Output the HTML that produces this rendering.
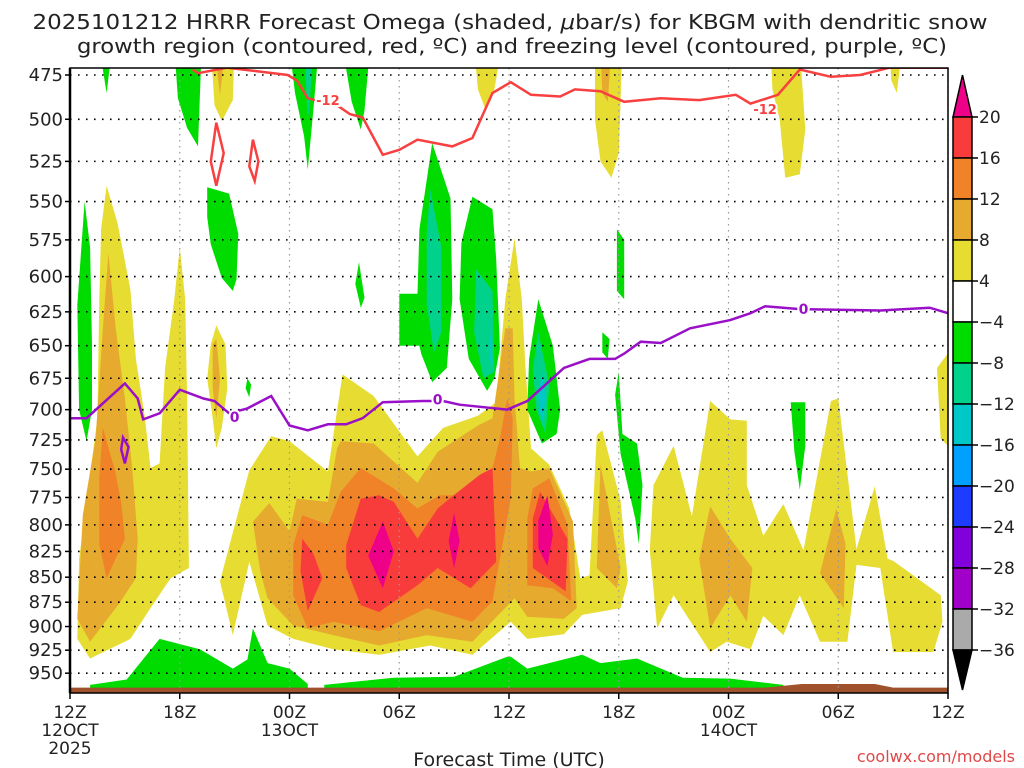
<!DOCTYPE html>
<html><head><meta charset="utf-8"><style>
html,body{margin:0;padding:0;background:#fff;}
svg{display:block;font-family:"DejaVu Sans","Liberation Sans",sans-serif;}
</style></head><body>
<svg id="chart" width="1024" height="768" viewBox="0 0 1024 768">
<text x="510" y="29" font-size="20" text-anchor="middle" textLength="955" lengthAdjust="spacingAndGlyphs" fill="#222">2025101212 HRRR Forecast Omega (shaded, <tspan font-style="italic">μ</tspan>bar/s) for KBGM with dendritic snow</text>
<text x="512" y="53" font-size="20" text-anchor="middle" textLength="870" lengthAdjust="spacingAndGlyphs" fill="#222">growth region (contoured, red, ºC) and freezing level (contoured, purple, ºC)</text>
<defs><clipPath id="plotclip"><rect x="70" y="68" width="878" height="625"/></clipPath></defs>
<g id="fills" clip-path="url(#plotclip)"></g>
<g id="grid"></g>
<g id="lines" clip-path="url(#plotclip)"></g>
<g id="axes"></g>
<g id="cbar"></g>
<text x="509" y="766" font-size="19" text-anchor="middle" fill="#222">Forecast Time (UTC)</text>
<text x="1015" y="762" font-size="16" text-anchor="end" fill="#e04848">coolwx.com/models</text>
</svg>
<script>
const pressureTicks=[475,500,525,550,575,600,625,650,675,700,725,750,775,800,825,850,875,900,925,950];
const timeTicks=[0,6,12,18,24,30,36,42,48];
const timeLabels=["12Z","18Z","00Z","06Z","12Z","18Z","00Z","06Z","12Z"];
const dateLabels=[[0,"12OCT"],[0,"2025"],[12,"13OCT"],[36,"14OCT"]];
const cbarLevels=[20,16,12,8,4,-4,-8,-12,-16,-20,-24,-28,-32,-36];
const cbarColors=["#f83c3c","#f08228","#e6aa2e","#e6dc32","#ffffff","#00dc00","#00d28c","#00c8c8","#00a0ff","#1e3cff","#8200dc","#a000c8","#aaaaaa"];
const levelColors={y4:"#e6dc32",o8:"#e6aa2e",o12:"#f08228",r16:"#f83c3c",m20:"#ee0088",g4:"#00dc00",g8:"#00d28c",c12:"#00c8c8"};
const yellowAreas=[
[[2.0,540],[2.6,564],[3.3,609],[3.6,660],[4.1,707],[4.4,749],[4.9,745],[5.2,667],[5.7,616],[6.0,580],[6.3,616],[6.4,691],[6.5,841],[5.5,851],[4.4,881],[3.3,913],[1.1,934],[0.4,913],[0.5,832],[1.0,767],[1.5,707],[1.6,616],[1.7,568]],
[[8.0,635],[8.5,649],[8.6,683],[8.3,715],[8.0,732],[7.8,707],[7.5,675],[7.7,649]],
[[7.7,460],[9.0,460],[8.9,489],[8.3,501],[7.9,492]],
[[22.1,460],[23.6,460],[23.2,483],[22.7,494],[22.3,483]],
[[28.7,460],[30.2,460],[30.0,520],[29.6,535],[29.0,525],[28.7,500]],
[[38.3,460],[39.9,460],[40.2,506],[39.9,533],[39.1,535],[38.8,500],[38.4,483]],
[[44.8,460],[45.5,460],[45.2,485],[44.9,478]],
[[47.4,667],[48.2,652],[48.2,733],[47.6,724]],
[[8.2,854],[9.8,751],[11.0,722],[12.0,726],[14.1,752],[14.9,672],[16.6,689],[19.0,739],[20.4,715],[22.3,705],[23.3,694],[23.8,616],[24.3,574],[24.7,616],[24.9,667],[25.2,732],[26.2,746],[27.3,785],[27.9,851],[28.4,848],[28.8,721],[29.1,717],[30.1,778],[30.5,854],[30.1,881],[28.0,888],[27.0,908],[25.0,913],[24.1,895],[22.0,930],[19.7,920],[16.9,930],[14.4,924],[12.2,913],[10.8,899],[9.8,835],[8.9,909]],
[[31.9,764],[33.0,730],[34.0,792],[35.0,693],[36.1,708],[37.0,709],[37.0,764],[37.9,810],[39.0,781],[40.1,824],[41.6,693],[42.0,691],[43.0,823],[44.0,765],[44.7,832],[45.0,834],[47.6,868],[47.7,895],[47.2,927],[45.0,927],[44.3,841],[43.0,838],[42.5,916],[41.0,916],[39.9,868],[39.0,909],[37.9,889],[37.2,924],[35.9,916],[35.0,927],[33.0,868],[32.1,902],[31.7,824]]
];
const orange8Areas=[
[[2.1,584],[2.5,637],[3.0,691],[3.4,749],[3.7,813],[3.6,851],[2.7,876],[1.1,916],[0.4,892],[0.7,791],[1.4,724],[1.8,637]],
[[7.8,649],[8.0,645],[8.2,675],[8.0,707],[7.8,683]],
[[7.9,460],[8.5,460],[8.2,486]],
[[29.0,460],[29.6,460],[29.4,490],[29.1,485]],
[[10.0,797],[10.9,780],[12.0,806],[12.4,776],[14.1,779],[14.6,732],[14.8,726],[16.6,728],[19.0,762],[20.1,735],[22.3,713],[23.1,707],[23.8,637],[24.2,637],[24.3,691],[24.6,749],[25.2,752],[26.2,749],[27.5,797],[27.7,881],[27.0,892],[25.0,890],[24.3,871],[22.0,916],[19.5,909],[16.9,920],[14.4,909],[12.2,899],[10.8,871],[10.4,844]],
[[29.0,746],[30.1,841],[29.9,861],[28.8,841]],
[[35.0,783],[36.1,813],[37.3,841],[37.0,895],[36.1,868],[35.0,902],[34.4,832]],
[[41.9,785],[42.4,818],[42.3,881],[41.0,846]]
];
const orange12Areas=[
[[1.8,715],[2.5,754],[2.8,780],[3.0,813],[2.0,851],[1.6,818],[1.6,758]],
[[12.2,819],[12.7,791],[14.1,800],[14.8,770],[15.9,749],[17.7,767],[19.0,785],[20.2,773],[22.0,773],[23.1,749],[23.5,724],[23.9,691],[24.2,707],[24.1,776],[23.5,832],[23.1,874],[22.0,895],[19.5,881],[16.9,905],[14.4,895],[13.0,902],[12.2,868]],
[[25.3,767],[26.2,758],[27.2,800],[27.4,874],[26.4,861],[25.0,858],[25.0,794]]
];
const red16Areas=[
[[12.7,813],[13.3,827],[13.8,851],[13.0,884],[12.6,844]],
[[15.1,819],[15.9,776],[16.9,773],[17.7,779],[19.0,813],[20.1,785],[20.9,774],[22.4,755],[23.1,749],[23.3,835],[21.9,861],[20.1,841],[19.0,858],[16.9,885],[15.9,878],[15.1,841]],
[[25.7,770],[27.2,813],[27.1,864],[25.3,841],[25.3,794]]
];
const magenta20Areas=[
[[17.1,797],[17.7,825],[17.1,861],[16.3,829]],
[[21.0,789],[21.3,815],[21.0,841],[20.7,815]],
[[26.1,773],[26.4,809],[26.1,839],[25.6,822],[25.6,796]]
];
const green4Areas=[
[[1.6,460],[2.3,460],[2.0,485]],
[[5.7,460],[7.2,460],[7.0,516],[6.4,505],[5.9,488]],
[[12.0,460],[13.6,460],[13.3,495],[13.0,530],[12.8,510],[12.3,485]],
[[14.9,460],[16.4,460],[16.1,495],[15.9,506],[15.4,490]],
[[7.5,541],[8.7,545],[9.2,571],[9.1,602],[8.9,610],[8.3,601],[7.7,578],[7.5,560]],
[[0.8,550],[1.1,580],[1.2,650],[1.2,700],[0.9,726],[0.5,700],[0.4,620]],
[[15.8,590],[16.1,615],[15.9,622],[15.6,605]],
[[19.8,514],[20.8,548],[20.9,616],[20.6,667],[19.8,678],[19.2,656],[19.1,650],[18.0,650],[18.0,612],[19.0,612],[19.1,568]],
[[22.0,547],[23.1,555],[23.3,588],[23.5,652],[23.2,675],[22.8,685],[21.8,660],[21.3,616],[21.4,577]],
[[25.6,616],[26.4,650],[26.8,700],[26.6,720],[25.8,728],[25.0,700],[25.1,660]],
[[29.9,568],[30.3,575],[30.3,616],[29.9,610]],
[[29.1,640],[29.5,645],[29.4,660],[29.1,655]],
[[30.0,670],[30.2,720],[31.0,728],[31.3,764],[31.1,818],[30.9,794],[30.1,737],[29.8,688]],
[[39.4,694],[40.2,694],[40.2,730],[39.9,768],[39.6,735]],
[[9.7,675],[9.9,680],[9.8,690],[9.6,683]],
[[1.1,963],[3.1,957],[4.9,913],[7.1,924],[8.9,945],[9.7,935],[10.0,902],[10.8,939],[12.0,945],[13.0,962],[13.0,975],[1.1,975]],
[[13.9,963],[17.7,955],[21.0,954],[23.9,932],[24.1,932],[25.0,945],[28.0,930],[29.0,939],[31.0,934],[33.5,955],[36.1,956],[39.0,963],[39.0,975],[13.9,975]]
];
const green8Areas=[
[[12.8,460],[13.3,460],[13.1,492],[13.0,500]],
[[19.7,542],[20.3,580],[20.3,640],[19.9,655],[19.5,620],[19.5,570]],
[[22.2,595],[23.1,610],[23.2,670],[22.6,675],[22.1,640]],
[[25.6,640],[26.2,680],[26.0,720],[25.5,700],[25.3,668]]
];
const cyan12Areas=[
[[25.8,670],[26.0,690],[25.8,712],[25.6,690]],
[[23.0,640],[23.1,665],[22.9,660]]
];
const groundLevel=[[0,966],[38,966],[40,962],[44,962],[45,966],[48,966]];
const freezingLine=[[0,707],[0.9,707],[3.0,679],[3.7,691],[4.0,708],[4.9,703],[6.0,684],[7.3,691],[7.9,693],[8.7,703],[9.7,699],[11.0,689],[12.0,713],[13.0,717],[14.1,712],[15.1,712],[16.0,707],[17.1,694],[19.3,693],[20.4,693],[21.3,696],[23.9,700],[25.0,693],[27.0,667],[28.4,660],[29.8,660],[30.3,656],[31.2,647],[32.3,648],[33.9,637],[36.1,631],[37.2,626],[38.0,621],[39.9,623],[44.3,624],[47.0,622],[48.0,626]];
const freezingLoop=[[2.9,723],[3.2,731],[3.0,745],[2.8,733]];
const freezingLabels=[[9.0,706],[20.1,692],[40.1,623]];
const dgzLine=[[6.7,472],[7.0,474],[8.6,471],[11.9,475],[12.4,478],[13.0,488],[14.6,492],[15.3,497],[16.0,499],[17.1,521],[18.0,518],[19.0,512],[20.9,516],[22.0,511],[23.1,485],[24.1,479],[25.2,486],[26.8,487],[27.6,483],[29.0,484],[30.3,490],[32.3,488],[34.4,489],[36.4,486],[37.2,491],[38.7,486],[39.9,472],[41.6,476],[43.2,475],[44.8,471],[48,471]];
const dgzLoops=[[[8.0,502],[8.4,520],[8.0,540],[7.7,525]],[[10.0,512],[10.3,525],[10.1,537],[9.8,528]]];
const dgzLabels=[[14.1,489],[38.0,494]];

const X0=70,X1=948,Y0=68,Y1=693;
function xs(h){return X0+h*(X1-X0)/48;}
function ys(p){return 75+Math.log(p/475)*863;}
const NS="http://www.w3.org/2000/svg";
function mk(tag,attrs,parent){const e=document.createElementNS(NS,tag);for(const k in attrs)e.setAttribute(k,attrs[k]);parent.appendChild(e);return e;}
function pts(a){return a.map(d=>xs(d[0]).toFixed(1)+","+ys(d[1]).toFixed(1)).join(" ");}

const fills=document.getElementById("fills");
function drawAreas(list,color,name){list.forEach(a=>{const el=mk("polygon",{points:pts(a),fill:color},fills);

});}
drawAreas(yellowAreas,levelColors.y4,"omega-4-8-area");
drawAreas(orange8Areas,levelColors.o8,"omega-8-12-area");
drawAreas(orange12Areas,levelColors.o12,"omega-12-16-area");
drawAreas(red16Areas,levelColors.r16,"omega-16-20-area");
drawAreas(magenta20Areas,levelColors.m20,"omega-above-20-area");
drawAreas(green4Areas,levelColors.g4,"omega-neg4-neg8-area");
drawAreas(green8Areas,levelColors.g8,"omega-neg8-neg12-area");
drawAreas(cyan12Areas,levelColors.c12,"omega-neg12-neg16-area");
const gpts=groundLevel.map(d=>[d[0],d[1]]);gpts.push([48,990],[0,990]);
const ground=mk("polygon",{points:pts(gpts),fill:"#a0522d"},fills);



const grid=document.getElementById("grid");
pressureTicks.forEach(p=>{const l=mk("line",{x1:X0,x2:X1,y1:ys(p),y2:ys(p),stroke:"#000","stroke-width":1.6,"stroke-dasharray":"1.6 6.4"},grid);

});
timeTicks.forEach(h=>{const l=mk("line",{x1:xs(h),x2:xs(h),y1:Y0,y2:Y1,stroke:"#999","stroke-width":1.2,"stroke-dasharray":"1.5 4.5"},grid);

});

const lines=document.getElementById("lines");
const fz=mk("polyline",{points:pts(freezingLine),fill:"none",stroke:"#9a10c8","stroke-width":2.5},lines);


const fl=mk("polygon",{points:pts(freezingLoop),fill:"none",stroke:"#9a10c8","stroke-width":2.5},lines);


freezingLabels.forEach(d=>{const t=mk("text",{x:xs(d[0]),y:ys(d[1])+5,"font-size":14,"font-weight":"bold","text-anchor":"middle",fill:"#9a10c8",stroke:"#fff","stroke-width":4,"paint-order":"stroke"},lines);t.textContent="0";

});
const dz=mk("polyline",{points:pts(dgzLine),fill:"none",stroke:"#f84040","stroke-width":2.5},lines);


dgzLoops.forEach(a=>{const e=mk("polygon",{points:pts(a),fill:"none",stroke:"#f84040","stroke-width":2.5},lines);

});
dgzLabels.forEach(d=>{const t=mk("text",{x:xs(d[0]),y:ys(d[1])+5,"font-size":13,"font-weight":"bold","text-anchor":"middle",fill:"#f84040",stroke:"#fff","stroke-width":4,"paint-order":"stroke"},lines);t.textContent="-12";

});

const axes=document.getElementById("axes");
const fr=mk("rect",{x:X0,y:Y0,width:X1-X0,height:Y1-Y0,fill:"none",stroke:"#000","stroke-width":1.5},axes);


mk("line",{x1:X0,x2:X0,y1:Y0,y2:Y1,stroke:"#000","stroke-width":2.5},axes);
pressureTicks.forEach(p=>{const t=mk("text",{x:63,y:ys(p)+6,"font-size":18,"text-anchor":"end",fill:"#222"},axes);t.textContent=p;


mk("line",{x1:X0-5,x2:X0,y1:ys(p),y2:ys(p),stroke:"#000","stroke-width":1.5},axes);});
timeTicks.forEach((h,i)=>{const t=mk("text",{x:xs(h),y:718,"font-size":17,"text-anchor":"middle",fill:"#222"},axes);t.textContent=timeLabels[i];


mk("line",{x1:xs(h),x2:xs(h),y1:Y1,y2:Y1+6,stroke:"#000","stroke-width":1.5},axes);});
dateLabels.forEach((d,i)=>{const t=mk("text",{x:xs(d[0]),y:i==1?754:736,"font-size":17,"text-anchor":"middle",fill:"#222"},axes);t.textContent=d[1];

});

const cb=document.getElementById("cbar");
const CX=953,CW=19,CT=117,CS=41;
const tri=mk("polygon",{points:`${CX},${CT} ${CX+CW},${CT} ${CX+CW/2},75`,fill:"#ee0088",stroke:"#000","stroke-width":1.5},cb);


cbarColors.forEach((c,i)=>{const r=mk("rect",{x:CX,y:CT+i*CS,width:CW,height:CS,fill:c,stroke:"#000","stroke-width":1.5},cb);

});
const yb=CT+cbarColors.length*CS;
const tri2=mk("polygon",{points:`${CX},${yb} ${CX+CW},${yb} ${CX+CW/2},690`,fill:"#000",stroke:"#000","stroke-width":1.5},cb);


cbarLevels.forEach((v,i)=>{const y=CT+i*CS;mk("line",{x1:CX+CW,x2:CX+CW+6,y1:y,y2:y,stroke:"#000","stroke-width":1.5},cb);
const t=mk("text",{x:979,y:y+6,"font-size":17,fill:"#222"},cb);t.textContent=(v<0?"−":"")+Math.abs(v);

});
</script>
</body></html>
